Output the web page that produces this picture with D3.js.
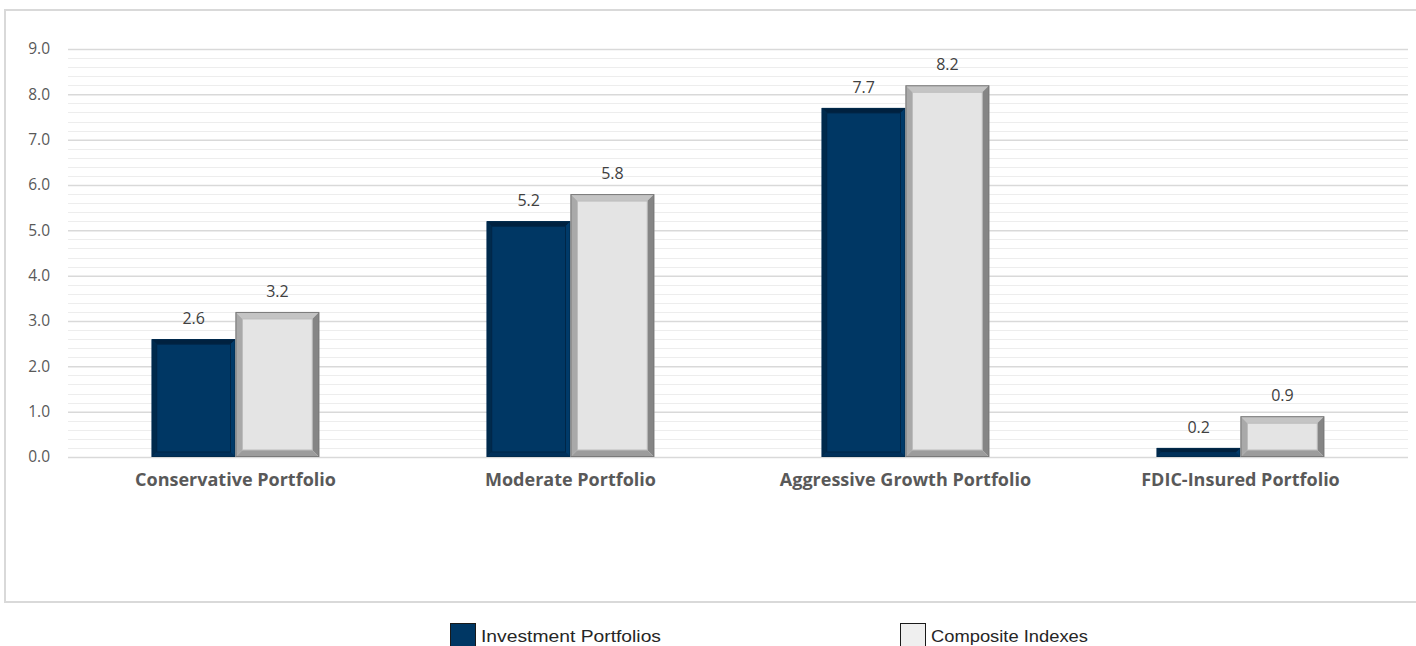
<!DOCTYPE html>
<html lang="en">
<head>
    <meta charset="UTF-8" />
    <title>Portfolio returns</title>
    <script src="https://d3js.org/d3.v7.min.js"></script>
    <style>
        body { margin: 0; background: #fff; }
        text { font-family: "Open Sans", "DejaVu Sans", sans-serif; }
    </style>
</head>
<body>
    <script>
        // data
        const categories = ["Conservative Portfolio", "Moderate Portfolio", "Aggressive Growth Portfolio", "FDIC-Insured Portfolio"];
        const seriesNames = ["Investment Portfolios", "Composite Indexes"];
        const investment = [2.6, 5.2, 7.7, 0.2];
        const composite = [3.2, 5.8, 8.2, 0.9];
        const yTicks = [0, 1, 2, 3, 4, 5, 6, 7, 8, 9];

        const width = 1416, height = 646;
        const plot = { left: 68, right: 1408, top: 49, bottom: 457 };

        const svg = d3.select("body").append("svg")
            .attr("width", width)
            .attr("height", height);

        // outer frame
        svg.append("rect")
            .attr("x", 5).attr("y", 10)
            .attr("width", width + 10).attr("height", 592)
            .attr("fill", "none")
            .attr("stroke", "#d9d9d9")
            .attr("stroke-width", 2);

        const x = d3.scaleBand()
            .domain(categories)
            .range([plot.left, plot.right])
            .paddingInner(0.5).paddingOuter(0.25);

        const xs = d3.scaleBand()
            .domain(seriesNames)
            .range([0, x.bandwidth()]);

        const y = d3.scaleLinear()
            .domain([0, 9])
            .range([plot.bottom, plot.top]);

        // minor grid
        svg.append("g").selectAll("line")
            .data(d3.range(0, 9.01, 0.2).filter(v => Math.abs(v - Math.round(v)) > 0.01))
            .join("line")
            .attr("x1", plot.left).attr("x2", plot.right)
            .attr("y1", d => Math.round(y(d)) + 0.5).attr("y2", d => Math.round(y(d)) + 0.5)
            .attr("stroke", "#ededed");

        // y axis + major grid
        const yAxis = svg.append("g")
            .attr("transform", `translate(${plot.left},0)`)
            .call(d3.axisLeft(y).tickValues(yTicks).tickFormat(d3.format(".1f"))
                .tickSize(-(plot.right - plot.left)).tickPadding(18));
        yAxis.select(".domain").remove();
        yAxis.selectAll(".tick line").attr("stroke", "#d9d9d9").attr("stroke-width", 1.5);
        yAxis.selectAll(".tick text")
            .attr("fill", "#595959")
            .style("font-size", "15.5px");

        // bars with bevel
        const styles = {
            "Investment Portfolios": {
                face: "#003764", top: "#00213f", left: "#002a4c", right: "#003a69", bottom: "#00305a",
                stroke: "#002a4c", inner: "#002647", b: 5
            },
            "Composite Indexes": {
                face: "#e4e4e4", top: "#c4c4c4", left: "#a9a9a9", right: "#858585", bottom: "#9c9c9c",
                stroke: "#7a7a7a", inner: "#bdbdbd", b: 7
            }
        };

        const rows = [];
        categories.forEach((c, i) => {
            rows.push({ cat: c, series: seriesNames[0], value: investment[i] });
            rows.push({ cat: c, series: seriesNames[1], value: composite[i] });
        });

        const bars = svg.append("g").selectAll("g")
            .data(rows)
            .join("g");

        bars.each(function (d) {
            const g = d3.select(this);
            const s = styles[d.series];
            const x0 = x(d.cat) + xs(d.series);
            const x1 = x0 + xs.bandwidth();
            const y0 = y(d.value);
            const y1 = y(0);
            const b = Math.min(s.b, (y1 - y0) / 2);

            g.append("rect")
                .attr("x", x0).attr("y", y0)
                .attr("width", x1 - x0).attr("height", y1 - y0)
                .attr("fill", s.face);

            if (b >= 2) {
                const pts = {
                    top: [[x0, y0], [x1, y0], [x1 - b, y0 + b], [x0 + b, y0 + b]],
                    left: [[x0, y0], [x0 + b, y0 + b], [x0 + b, y1 - b], [x0, y1]],
                    right: [[x1, y0], [x1, y1], [x1 - b, y1 - b], [x1 - b, y0 + b]],
                    bottom: [[x0, y1], [x0 + b, y1 - b], [x1 - b, y1 - b], [x1, y1]]
                };
                Object.keys(pts).forEach(k => {
                    g.append("polygon")
                        .attr("points", pts[k].map(p => p.join(",")).join(" "))
                        .attr("fill", s[k]);
                });
                g.append("rect")
                    .attr("x", x0 + b).attr("y", y0 + b)
                    .attr("width", x1 - x0 - 2 * b).attr("height", y1 - y0 - 2 * b)
                    .attr("fill", "none")
                    .attr("stroke", s.inner);
            }

            g.append("rect")
                .attr("x", x0 + 0.5).attr("y", y0 + 0.5)
                .attr("width", x1 - x0 - 1).attr("height", y1 - y0 - 1)
                .attr("fill", "none")
                .attr("stroke", s.stroke);

            g.append("text")
                .attr("x", (x0 + x1) / 2)
                .attr("y", y0 - 15)
                .attr("text-anchor", "middle")
                .attr("fill", "#404040")
                .style("font-size", "16px")
                .text(d3.format(".1f")(d.value));
        });

        // category labels
        svg.append("g").selectAll("text")
            .data(categories)
            .join("text")
            .attr("x", d => x(d) + x.bandwidth() / 2)
            .attr("y", 486)
            .attr("text-anchor", "middle")
            .attr("fill", "#595959")
            .style("font-size", "18px")
            .style("font-weight", "bold")
            .text(d => d);

        // legend
        const legendX = [450, 900];
        const legendW = [180, 157];
        const legend = svg.append("g").selectAll("g")
            .data(seriesNames)
            .join("g")
            .attr("transform", (d, i) => `translate(${legendX[i]},623)`);
        legend.append("rect")
            .attr("x", 0.5).attr("y", 0.5)
            .attr("width", 25).attr("height", 28)
            .attr("fill", d => d === seriesNames[0] ? "#003764" : "#efefef")
            .attr("stroke", "#1a1a1a");
        legend.append("text")
            .attr("x", 31).attr("y", 19)
            .attr("fill", "#262626")
            .attr("textLength", (d, i) => legendW[i])
            .attr("lengthAdjust", "spacingAndGlyphs")
            .style("font-family", "'Liberation Sans', Arial, sans-serif")
            .style("font-size", "17px")
            .text(d => d);
    </script>
</body>
</html>
